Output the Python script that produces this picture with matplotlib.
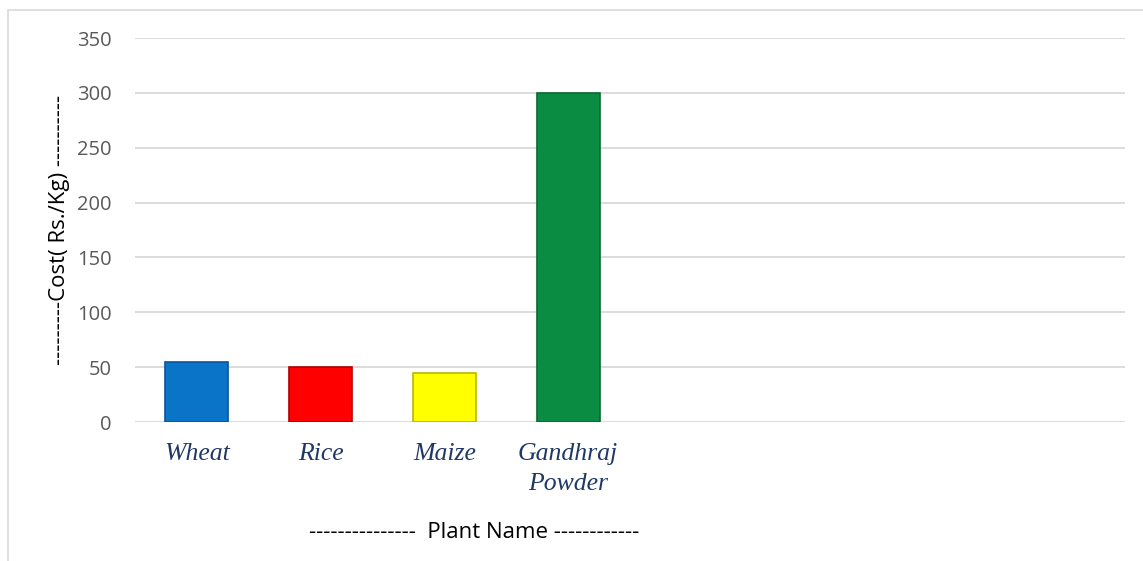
import matplotlib.pyplot as plt
from matplotlib.patches import Rectangle

# Data
plants = ["Wheat", "Rice", "Maize", "Gandhraj\nPowder", "", "", "", ""]
cost = [55, 50, 45, 300, 0, 0, 0, 0]
colors = ["#0a74c8", "#ff0000", "#ffff00", "#0a8c42", "none", "none", "none", "none"]
edges = ["#08559a", "#b00000", "#b8b800", "#066b30", "none", "none", "none", "none"]
yticks = [0, 50, 100, 150, 200, 250, 300, 350]

fig = plt.figure(figsize=(11.43, 5.61), dpi=100)
ax = fig.add_axes([135 / 1143, 1 - 422 / 561, 990 / 1143, 384 / 561])

x = range(len(plants))
ax.bar(x, cost, width=0.51, color=colors, edgecolor=edges, linewidth=1.2, zorder=3)

ax.set_xlim(-0.5, len(plants) - 0.5)
ax.set_ylim(0, 350)
ax.set_yticks(yticks)
ax.set_xticks(list(x))
ax.set_xticklabels(plants, family="Liberation Serif", style="italic",
                   fontsize=18.5, color="#1f3864", linespacing=1.5)
ax.tick_params(axis="x", length=0, pad=15)
ax.tick_params(axis="y", length=0, pad=17, labelsize=14.5, labelcolor="#595959")
for lbl in ax.get_yticklabels():
    lbl.set_family("Open Sans")

ax.grid(axis="y", color="#d9d9d9", linewidth=1.3, zorder=0)
for s in ax.spines.values():
    s.set_visible(False)

ax.set_ylabel("---------Cost( Rs./Kg) ----------", fontsize=16,
              family="Open Sans", color="black", labelpad=5)
fig.text(474 / 1143, 1 - 532 / 561, "---------------  Plant Name ------------",
         ha="center", va="center", fontsize=16, family="Open Sans", color="black")

# chart frame
fig.patches.append(Rectangle((8 / 1143, -0.1), 1.2, 1 - 10 / 561 + 0.1,
                             transform=fig.transFigure, fill=False,
                             edgecolor="#d9d9d9", linewidth=1.2))

fig.savefig("out.png", dpi=100)
